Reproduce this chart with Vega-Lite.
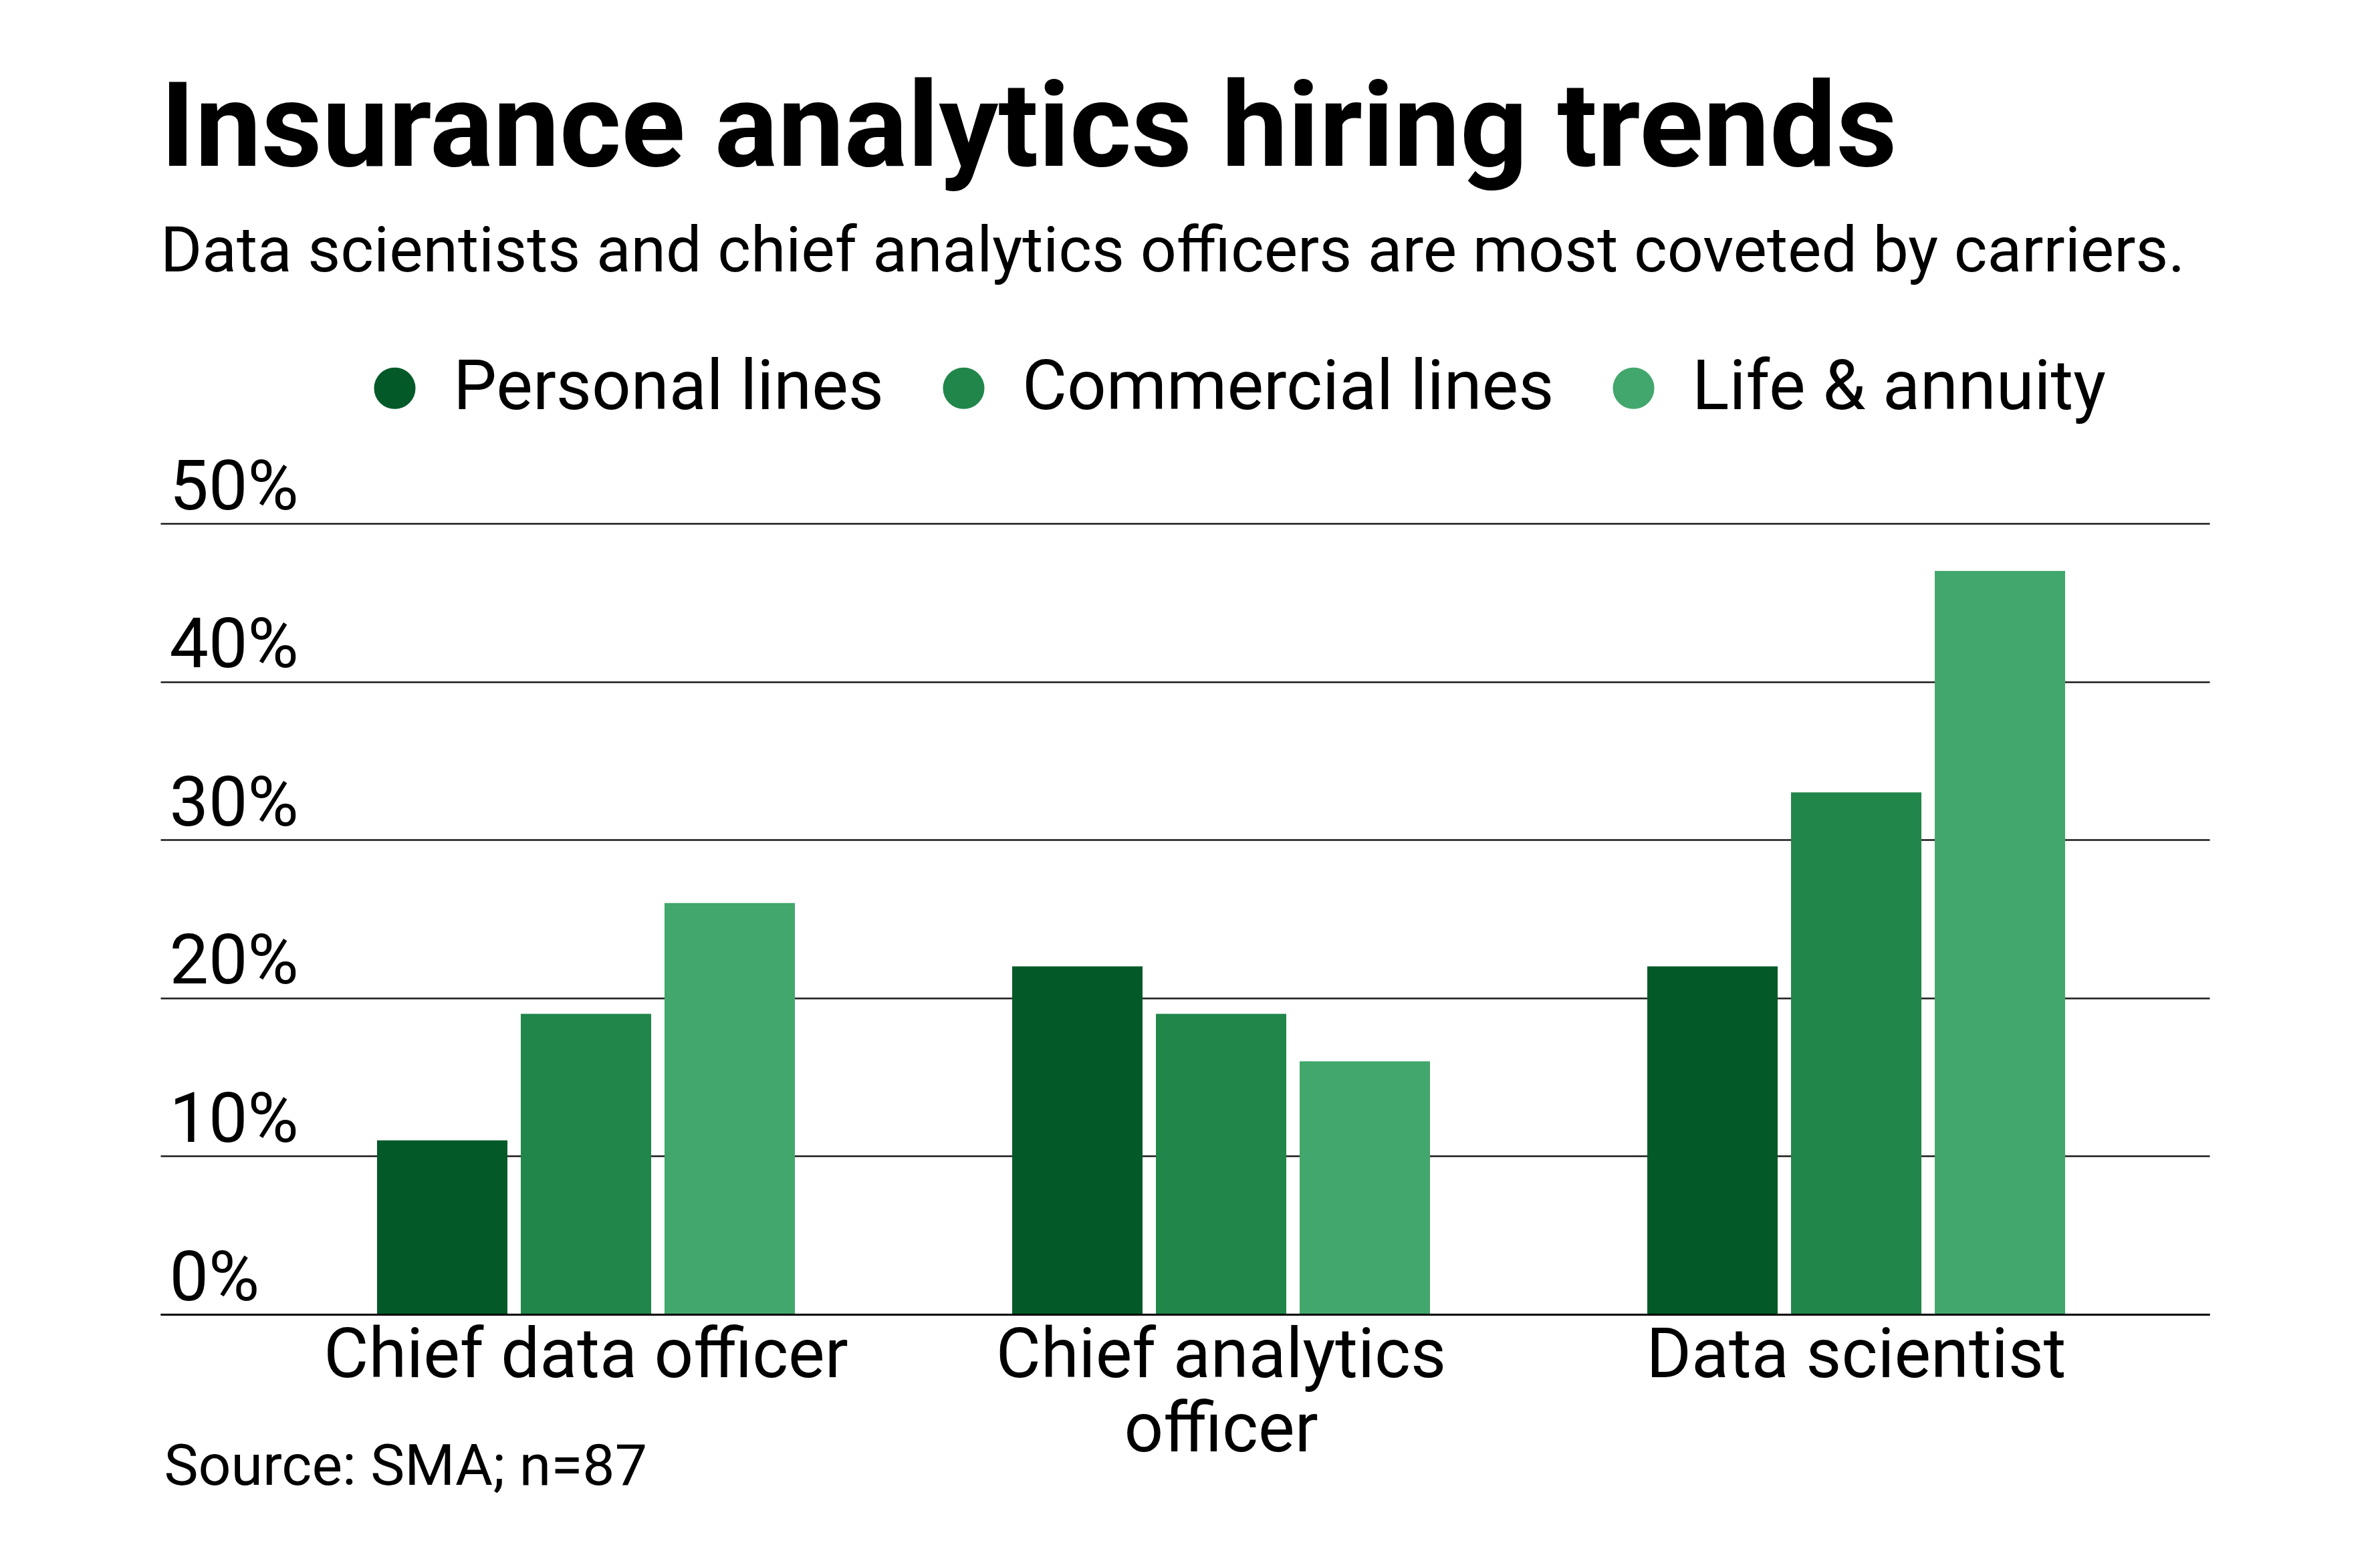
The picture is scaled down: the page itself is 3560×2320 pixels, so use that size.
{
  "$schema": "https://vega.github.io/schema/vega-lite/v6.json",
  "width": 3065,
  "height": 1183,
  "autosize": {"type": "none"},
  "padding": {"left": 240, "top": 783, "right": 255, "bottom": 354},
  "background": "white",
  "title": {
    "text": "Insurance analytics hiring trends",
    "subtitle": "Data scientists and chief analytics officers are most coveted by carriers.",
    "anchor": "start",
    "frame": "group",
    "font": "Roboto",
    "fontSize": 177,
    "fontWeight": "bold",
    "color": "#000000",
    "subtitleFont": "Roboto",
    "subtitleFontSize": 95,
    "subtitleColor": "#000000",
    "subtitlePadding": 46,
    "offset": 102
  },
  "config": {"view": {"stroke": null}, "font": "Roboto"},
  "data": {
    "values": [
      {"role": "Chief data officer", "segment": "Personal lines", "value": 11},
      {"role": "Chief data officer", "segment": "Commercial lines", "value": 19},
      {"role": "Chief data officer", "segment": "Life & annuity", "value": 26},
      {"role": "Chief analytics officer", "segment": "Personal lines", "value": 22},
      {"role": "Chief analytics officer", "segment": "Commercial lines", "value": 19},
      {"role": "Chief analytics officer", "segment": "Life & annuity", "value": 16},
      {"role": "Data scientist", "segment": "Personal lines", "value": 22},
      {"role": "Data scientist", "segment": "Commercial lines", "value": 33},
      {"role": "Data scientist", "segment": "Life & annuity", "value": 47}
    ]
  },
  "mark": {"type": "bar"},
  "encoding": {
    "x": {
      "field": "role",
      "type": "nominal",
      "sort": ["Chief data officer", "Chief analytics officer", "Data scientist"],
      "scale": {"paddingInner": 0.3421, "paddingOuter": 0.2842, "align": 0.6},
      "axis": {
        "title": "Source: SMA; n=87",
        "titleFont": "Roboto",
        "titleFontSize": 86,
        "titleFontWeight": "normal",
        "titleColor": "#000000",
        "titleAnchor": "start",
        "titleAlign": "left",
        "titleBaseline": "alphabetic",
        "titleX": 5,
        "titleY": 254,
        "labelAngle": 0,
        "labelFont": "Roboto",
        "labelFontSize": 103,
        "labelColor": "#000000",
        "labelPadding": 12,
        "labelLineHeight": 111,
        "labelLimit": 2000,
        "labelExpr": "datum.label == 'Chief analytics officer' ? ['Chief analytics', 'officer'] : datum.label",
        "ticks": false,
        "tickSize": 0,
        "domainColor": "#000000",
        "domainWidth": 3,
        "grid": false,
        "zindex": 1
      }
    },
    "xOffset": {
      "field": "segment",
      "sort": ["Personal lines", "Commercial lines", "Life & annuity"],
      "scale": {"paddingInner": 0.093, "paddingOuter": 0}
    },
    "y": {
      "field": "value",
      "type": "quantitative",
      "scale": {"domain": [0, 50], "nice": false},
      "axis": {
        "title": null,
        "values": [0, 10, 20, 30, 40, 50],
        "labelExpr": "datum.value + '%'",
        "labelAlign": "left",
        "labelBaseline": "alphabetic",
        "labelOffset": -22,
        "labelPadding": -13,
        "labelFont": "Roboto",
        "labelFontSize": 104,
        "labelColor": "#000000",
        "labelFlush": false,
        "labelOverlap": false,
        "labelLimit": 1000,
        "ticks": false,
        "tickSize": 0,
        "domain": false,
        "grid": true,
        "gridColor": "#1a1a1a",
        "gridWidth": 2.5
      }
    },
    "color": {
      "field": "segment",
      "type": "nominal",
      "sort": ["Personal lines", "Commercial lines", "Life & annuity"],
      "scale": {
        "domain": ["Personal lines", "Commercial lines", "Life & annuity"],
        "range": ["#035a28", "#21864a", "#42a76c"]
      },
      "legend": {
        "orient": "none",
        "legendX": 299,
        "legendY": -254,
        "direction": "horizontal",
        "title": null,
        "symbolType": "circle",
        "symbolSize": 3850,
        "symbolStrokeWidth": 0,
        "symbolOpacity": 1,
        "labelFont": "Roboto",
        "labelFontSize": 103,
        "labelColor": "#000000",
        "labelOffset": 36,
        "columnPadding": 67,
        "padding": 0,
        "labelLimit": 2000
      }
    }
  }
}
